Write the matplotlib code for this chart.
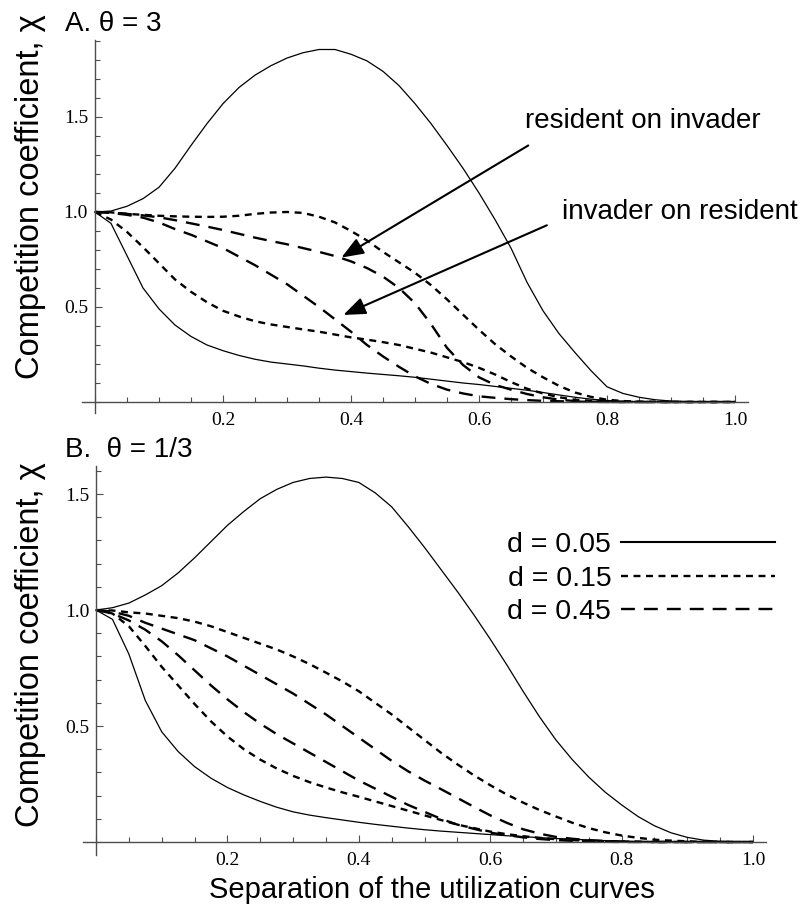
import numpy as np
import matplotlib.pyplot as plt
from matplotlib.lines import Line2D
from matplotlib.ticker import MultipleLocator

plt.rcParams['font.family'] = ['Liberation Sans', 'DejaVu Sans']
plt.rcParams['lines.scale_dashes'] = False

# separation of the utilization curves
sep = [0, 0.025, 0.05, 0.075, 0.1, 0.125, 0.15, 0.175, 0.2, 0.225, 0.25, 0.275,
       0.3, 0.325, 0.35, 0.375, 0.4, 0.425, 0.45, 0.475, 0.5, 0.525, 0.55, 0.575,
       0.6, 0.625, 0.65, 0.675, 0.7, 0.725, 0.75, 0.775, 0.8, 0.825, 0.85, 0.875,
       0.9, 0.925, 0.95, 0.975, 1.0]

# panel A, theta = 3
a_d05_hi = [1, 1.005, 1.03, 1.07, 1.13, 1.23, 1.35, 1.465, 1.57, 1.655, 1.72, 1.77,
            1.81, 1.838, 1.855, 1.855, 1.83, 1.795, 1.74, 1.665, 1.57, 1.465, 1.35, 1.23,
            1.10, 0.96, 0.81, 0.63, 0.48, 0.36, 0.26, 0.165, 0.08, 0.045, 0.025, 0.012,
            0.005, 0.002, 0, 0, 0]
a_d05_lo = [1, 0.94, 0.77, 0.60, 0.49, 0.405, 0.345, 0.30, 0.27, 0.245, 0.225, 0.21,
            0.20, 0.19, 0.178, 0.168, 0.16, 0.152, 0.145, 0.138, 0.13, 0.12, 0.11, 0.10,
            0.092, 0.082, 0.072, 0.062, 0.05, 0.037, 0.025, 0.015, 0.008, 0.004, 0.002, 0.001,
            0, 0, 0, 0, 0]
a_d15_hi = [1, 0.998, 0.99, 0.985, 0.98, 0.977, 0.975, 0.974, 0.975, 0.98, 0.99, 0.997,
            1.0, 0.995, 0.975, 0.945, 0.90, 0.85, 0.79, 0.735, 0.68, 0.615, 0.54, 0.46,
            0.38, 0.305, 0.24, 0.18, 0.13, 0.085, 0.05, 0.027, 0.012, 0.005, 0.002, 0.001,
            0, 0, 0, 0, 0]
a_d15_lo = [1, 0.96, 0.895, 0.815, 0.73, 0.645, 0.58, 0.525, 0.48, 0.45, 0.425, 0.408,
            0.395, 0.382, 0.37, 0.355, 0.34, 0.328, 0.315, 0.30, 0.28, 0.26, 0.235, 0.21,
            0.18, 0.145, 0.105, 0.07, 0.045, 0.025, 0.012, 0.006, 0.003, 0.001, 0, 0,
            0, 0, 0, 0, 0]
a_d45_hi = [1, 0.997, 0.99, 0.982, 0.972, 0.957, 0.94, 0.923, 0.905, 0.885, 0.865, 0.847,
            0.83, 0.81, 0.79, 0.768, 0.74, 0.705, 0.66, 0.60, 0.52, 0.41, 0.285, 0.195,
            0.13, 0.09, 0.065, 0.042, 0.025, 0.012, 0.005, 0.002, 0, 0, 0, 0,
            0, 0, 0, 0, 0]
a_d45_lo = [1, 0.995, 0.985, 0.97, 0.945, 0.91, 0.88, 0.845, 0.81, 0.765, 0.72, 0.67,
            0.62, 0.56, 0.50, 0.435, 0.37, 0.30, 0.24, 0.185, 0.135, 0.095, 0.065, 0.045,
            0.03, 0.022, 0.015, 0.01, 0.006, 0.004, 0.002, 0.001, 0, 0, 0, 0,
            0, 0, 0, 0, 0]

# panel B, theta = 1/3
b_d05_hi = [1, 1.01, 1.03, 1.065, 1.105, 1.16, 1.225, 1.295, 1.365, 1.425, 1.48, 1.52,
            1.55, 1.567, 1.573, 1.567, 1.55, 1.505, 1.445, 1.36, 1.27, 1.175, 1.08, 0.98,
            0.875, 0.765, 0.65, 0.54, 0.44, 0.355, 0.28, 0.215, 0.16, 0.11, 0.07, 0.04,
            0.02, 0.008, 0.003, 0.001, 0]
b_d05_lo = [1, 0.96, 0.81, 0.61, 0.475, 0.39, 0.325, 0.275, 0.235, 0.203, 0.175, 0.15,
            0.13, 0.116, 0.105, 0.095, 0.085, 0.076, 0.068, 0.06, 0.053, 0.047, 0.042, 0.037,
            0.032, 0.027, 0.023, 0.019, 0.015, 0.012, 0.009, 0.006, 0.004, 0.002, 0.001, 0,
            0, 0, 0, 0, 0]
b_d15_hi = [1, 0.998, 0.99, 0.985, 0.975, 0.965, 0.95, 0.93, 0.905, 0.88, 0.855, 0.83,
            0.80, 0.767, 0.73, 0.692, 0.65, 0.60, 0.55, 0.495, 0.44, 0.385, 0.335, 0.288,
            0.245, 0.205, 0.17, 0.138, 0.11, 0.083, 0.06, 0.042, 0.028, 0.018, 0.01, 0.006,
            0.003, 0.001, 0, 0, 0]
b_d15_lo = [1, 0.985, 0.93, 0.845, 0.755, 0.675, 0.595, 0.52, 0.455, 0.40, 0.355, 0.317,
            0.285, 0.258, 0.235, 0.214, 0.195, 0.175, 0.155, 0.135, 0.115, 0.095, 0.075, 0.06,
            0.045, 0.034, 0.025, 0.018, 0.012, 0.008, 0.005, 0.003, 0.002, 0.001, 0, 0,
            0, 0, 0, 0, 0]
b_d45_hi = [1, 0.993, 0.975, 0.945, 0.92, 0.895, 0.87, 0.835, 0.80, 0.76, 0.72, 0.68,
            0.64, 0.595, 0.55, 0.50, 0.45, 0.40, 0.35, 0.305, 0.265, 0.228, 0.19, 0.152,
            0.115, 0.083, 0.055, 0.036, 0.022, 0.014, 0.008, 0.004, 0.002, 0.001, 0, 0,
            0, 0, 0, 0, 0]
b_d45_lo = [1, 0.985, 0.955, 0.915, 0.865, 0.805, 0.74, 0.675, 0.615, 0.56, 0.51, 0.465,
            0.425, 0.385, 0.345, 0.305, 0.265, 0.23, 0.195, 0.16, 0.13, 0.1, 0.075, 0.057,
            0.04, 0.03, 0.02, 0.013, 0.008, 0.005, 0.003, 0.001, 0, 0, 0, 0,
            0, 0, 0, 0, 0]

legend_labels = ['d = 0.05', 'd = 0.15', 'd = 0.45']

W, H = 811, 909
fig = plt.figure(figsize=(W / 100, H / 100), dpi=100)

solid = dict(color='k', lw=0.9, ls='-')
short = dict(color='k', lw=1.7, ls=(0, (5, 4)))
long_ = dict(color='k', lw=1.7, ls=(0, (10, 6.5)))


def make_axes(left, right, top, bottom, ylim):
    ax = fig.add_axes([left / W, 1 - bottom / H, (right - left) / W, (bottom - top) / H])
    ax.set_xlim(-0.02, 1.02)
    ax.set_ylim(*ylim)
    for s in ['top', 'right']:
        ax.spines[s].set_visible(False)
    for s in ['left', 'bottom']:
        ax.spines[s].set_position(('data', 0))
        ax.spines[s].set_color('0.3')
        ax.spines[s].set_linewidth(1.0)
    ax.set_xticks([0.2, 0.4, 0.6, 0.8, 1.0])
    ax.set_xticklabels(['0.2', '0.4', '0.6', '0.8', '1.0'])
    ax.xaxis.set_minor_locator(MultipleLocator(0.05))
    ax.set_yticks([0.5, 1.0, 1.5])
    ax.set_yticklabels(['0.5', '1.0', '1.5'])
    ax.yaxis.set_minor_locator(MultipleLocator(0.1))
    ax.tick_params(which='major', direction='in', length=4.8, width=0.8, color='0.3')
    ax.tick_params(which='minor', direction='in', length=3.4, width=0.8, color='0.3')
    ax.tick_params(axis='x', pad=7)
    ax.tick_params(axis='y', pad=5)
    for lab in ax.get_xticklabels() + ax.get_yticklabels():
        lab.set_fontfamily('Liberation Serif')
        lab.set_fontsize(14)
    ax.patch.set_visible(False)
    return ax


ax1 = make_axes(82.2, 747.8, 40, 413.4, (-0.06, 1.905))
ax2 = make_axes(82.9, 766.1, 466.2, 855, (-0.056, 1.62))

ax1.plot(sep, a_d05_hi, **solid)
ax1.plot(sep, a_d05_lo, **solid)
ax1.plot(sep, a_d15_hi, **short)
ax1.plot(sep, a_d15_lo, **short)
ax1.plot(sep, a_d45_hi, **long_)
ax1.plot(sep, a_d45_lo, **long_)

ax2.plot(sep, b_d05_hi, **solid)
ax2.plot(sep, b_d05_lo, **solid)
ax2.plot(sep, b_d15_hi, **short)
ax2.plot(sep, b_d15_lo, **short)
ax2.plot(sep, b_d45_hi, **long_)
ax2.plot(sep, b_d45_lo, **long_)

# arrows and their labels
arrow = dict(arrowstyle='-|>,head_length=0.9,head_width=0.35', color='k', lw=1.5,
             mutation_scale=15, shrinkA=0, shrinkB=0)
ax1.annotate('', xy=(0.385, 0.76), xytext=(0.677, 1.35), arrowprops=arrow)
ax1.annotate('', xy=(0.388, 0.458), xytext=(0.706, 0.93), arrowprops=arrow)
ax1.text(0.672, 1.48, 'resident on invader', fontsize=20, ha='left', va='center')
ax1.text(0.73, 1.0, 'invader on resident', fontsize=20, ha='left', va='center')

# legend, text first
handles = [Line2D([], [], **solid), Line2D([], [], **short), Line2D([], [], **long_)]
handles[0].set_linewidth(1.5)
ax2.legend(handles, legend_labels, loc='upper right', bbox_to_anchor=(775 / W, 1 - 532 / H),
           bbox_transform=fig.transFigure, markerfirst=False, frameon=False, fontsize=20.5,
           handlelength=5.4, handletextpad=0.35, labelspacing=0.27, borderpad=0,
           borderaxespad=0)

fig.text(65 / W, 1 - 24 / H, 'A. θ = 3', fontsize=20, ha='left', va='center')
fig.text(65 / W, 1 - 450 / H, 'B.  θ = 1/3', fontsize=20, ha='left', va='center')
fig.text(31 / W, 1 - 197 / H, 'Competition coefficient, χ', fontsize=23.5, rotation=90,
         ha='center', va='center')
fig.text(31 / W, 1 - 645 / H, 'Competition coefficient, χ', fontsize=23.5, rotation=90,
         ha='center', va='center')
fig.text(432 / W, 1 - 890 / H, 'Separation of the utilization curves', fontsize=21,
         ha='center', va='center')

fig.savefig('out.png', dpi=100)
